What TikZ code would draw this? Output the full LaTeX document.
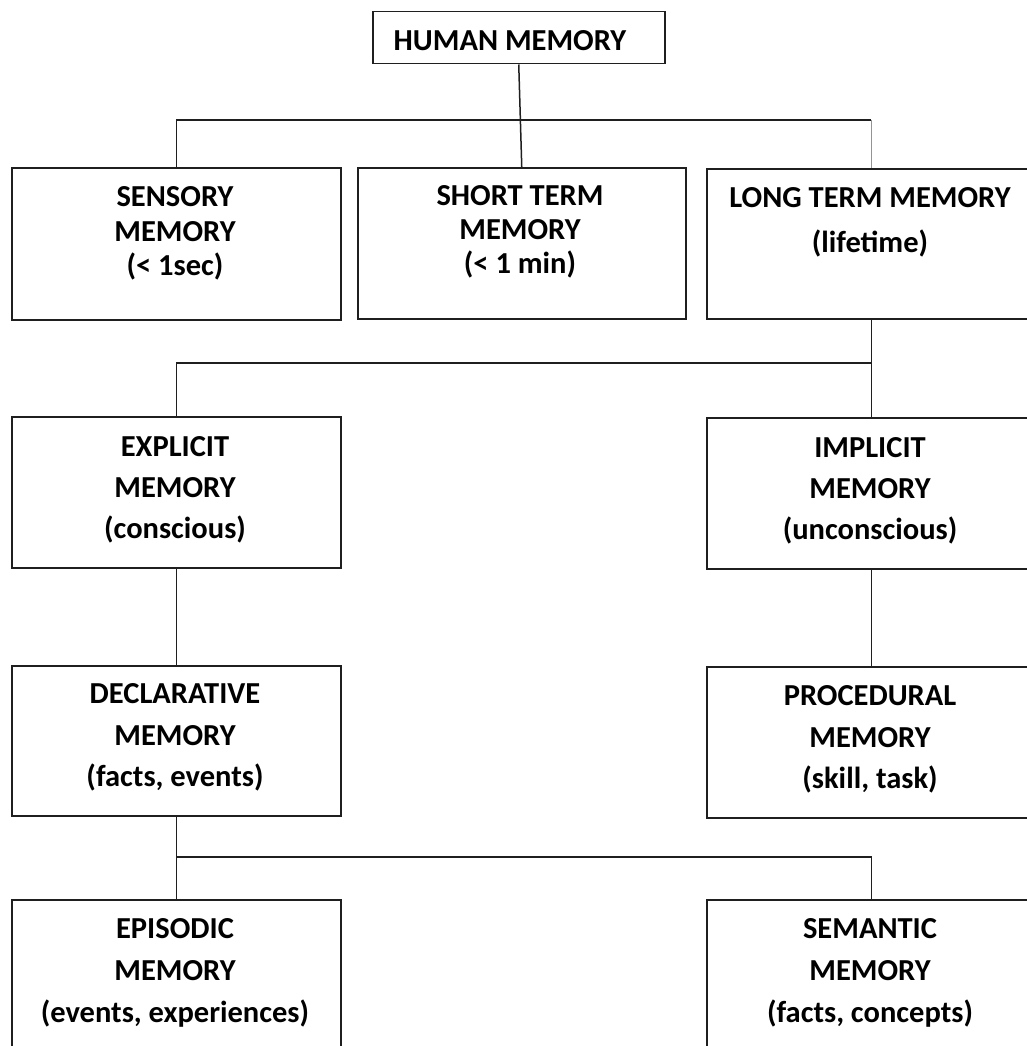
\documentclass[tikz,border=0pt]{standalone}
\usepackage{fontspec}
\setmainfont{Carlito}
\begin{document}
\begin{tikzpicture}[x=1pt,y=-1pt,
  box/.style={draw=black!88, line width=1.5pt, rectangle, inner sep=0pt,
    anchor=north west, minimum width=329pt},
  lbl/.style={font=\bfseries\fontsize{30.5}{#1}\selectfont, align=center,
    inner sep=0pt, anchor=north, text=black},
  lbl/.default=42,
  wire/.style={draw=black!88, line width=1.5pt},
  bluewire/.style={draw=cyan!40!blue!55, line width=1pt}]

\useasboundingbox (0,0) rectangle (1027,1046);
\fill[white] (0,0) rectangle (1027,1046);
\clip (0,0) rectangle (1027,1046);

% bus levels
\coordinate (busA) at (0,120);
\coordinate (busB) at (0,363);
\coordinate (busC) at (0,857);

% boxes
\node[box, minimum width=292pt, minimum height=52pt] (human) at (372,11) {};
\node[box, minimum height=152pt] (sensory) at (11,167) {};
\node[box, minimum width=328pt, minimum height=151pt] (short) at (357,167) {};
\node[box, minimum height=150pt] (long) at (706,168) {};
\node[box, minimum height=151pt] (explicit) at (11,416) {};
\node[box, minimum height=151pt] (implicit) at (706,417) {};
\node[box, minimum height=150pt] (declarative) at (11,665) {};
\node[box, minimum height=151pt] (procedural) at (706,666) {};
\node[box, minimum height=170pt] (episodic) at (11,899) {};
\node[box, minimum height=170pt] (semantic) at (706,899) {};

% texts
\node[lbl] (humanT) at (510,30.7) {HUMAN MEMORY};
\node[lbl=34.5] (sensoryT) at (175,186.7) {SENSORY\\MEMORY\\(< 1sec)};
\node[lbl=34] (shortT) at (520,185.7) {SHORT TERM\\MEMORY\\(< 1 min)};
\node[lbl=45] (longT) at (870,187.7) {LONG TERM MEMORY\\(lifetime)};
\node[lbl=41] (explicitT) at (175,436.7) {EXPLICIT\\MEMORY\\(conscious)};
\node[lbl=41] (implicitT) at (870,437.7) {IMPLICIT\\MEMORY\\(unconscious)};
\node[lbl=41.5] (declarativeT) at (175,683.7) {DECLARATIVE\\MEMORY\\(facts, events)};
\node[lbl=41.5] (proceduralT) at (870,685.7) {PROCEDURAL\\MEMORY\\(skill, task)};
\node[lbl=42] (episodicT) at (175,918.7) {EPISODIC\\MEMORY\\(events, experiences)};
\node[lbl=42] (semanticT) at (870,918.7) {SEMANTIC\\MEMORY\\(facts, concepts)};

% connectors
\draw[wire] (human.south) -- (short.north);
\draw[wire] (sensory.north) -- (sensory.north |- busA) -- (long.north |- busA);
\draw[bluewire] (long.north |- busA) -- (long.north);

\draw[wire] (long.south) -- (implicit.north);
\draw[wire] (long.south |- busB) -| (explicit.north);

\draw[wire] (explicit.south) -- (declarative.north);
\draw[wire] (implicit.south) -- (procedural.north);

\draw[wire] (declarative.south) -- (episodic.north);
\draw[wire] (declarative.south |- busC) -| (semantic.north);
\end{tikzpicture}
\end{document}
